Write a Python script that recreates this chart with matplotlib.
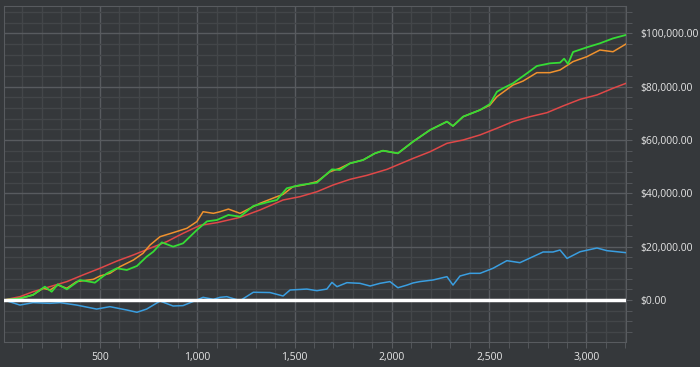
import matplotlib
matplotlib.use("Agg")
import matplotlib.pyplot as plt
from matplotlib.ticker import MultipleLocator, FuncFormatter

# ---- data ----
blue_x = [7, 89, 156, 243, 295, 380, 483, 551, 638, 690, 740, 809, 876, 927, 998, 1030, 1083, 1117, 1152,
          1220, 1288, 1374, 1441, 1477, 1563, 1615, 1666, 1692, 1718, 1769, 1836, 1888, 1939, 1990, 2031,
          2078, 2109, 2144, 2211, 2283, 2314, 2350, 2401, 2453, 2520, 2591, 2658, 2725, 2777, 2828, 2864,
          2900, 2967, 3054, 3105, 3157, 3203]
blue_y = [0, -1900, -1000, -1250, -1000, -1900, -3400, -2500, -3750, -4600, -3400, -400, -2250, -2100, 0,
          1000, 250, 1000, 1250, -250, 2900, 2800, 1500, 3750, 4100, 3500, 4100, 6600, 5000, 6500, 6250,
          5250, 6250, 6900, 4600, 5600, 6400, 6900, 7500, 8750, 5600, 9000, 10000, 10000, 11900, 14750,
          14000, 16250, 18000, 18000, 18750, 15600, 18100, 19500, 18500, 18100, 17750]

red_x = [7, 89, 156, 243, 330, 413, 500, 587, 672, 757, 844, 927, 1014, 1101, 1220, 1322, 1441, 1528, 1615,
         1697, 1785, 1872, 1975, 2109, 2196, 2283, 2366, 2453, 2540, 2622, 2710, 2797, 2879, 2967, 3054,
         3136, 3203]
red_y = [0, 1250, 3100, 5000, 6900, 9400, 11900, 14600, 16900, 19400, 21900, 25000, 28000, 29000, 31000,
         33750, 37500, 38750, 40600, 43100, 45250, 46750, 49000, 53100, 55600, 58750, 60000, 61900, 64400,
         66900, 68750, 70250, 72750, 75250, 76900, 79400, 81250]

orange_x = [7, 89, 156, 208, 243, 284, 330, 380, 466, 500, 551, 603, 672, 721, 757, 809, 876, 947, 998,
            1030, 1083, 1117, 1160, 1220, 1271, 1322, 1409, 1441, 1492, 1545, 1615, 1682, 1733, 1785, 1852,
            1913, 1954, 2031, 2109, 2196, 2283, 2314, 2366, 2453, 2504, 2540, 2622, 2674, 2745, 2812, 2864,
            2931, 3002, 3069, 3136, 3203]
orange_y = [0, 600, 1900, 4400, 3750, 5600, 4400, 6900, 7750, 9000, 10000, 12500, 15000, 17500, 20600,
            23750, 25250, 26900, 29400, 33100, 32500, 33100, 34100, 32500, 34400, 36250, 38750, 39600,
            42500, 43100, 44400, 48100, 49400, 51250, 52500, 55000, 56000, 55000, 59400, 63750, 66900,
            65250, 68750, 71250, 73100, 76250, 80600, 82100, 85250, 85250, 86250, 89400, 91250, 93750,
            93100, 96000]

green_x = [7, 89, 156, 217, 252, 284, 330, 397, 474, 536, 587, 638, 690, 740, 774, 818, 876, 927, 998,
           1050, 1101, 1160, 1220, 1288, 1357, 1409, 1460, 1528, 1615, 1692, 1733, 1785, 1852, 1913, 1954,
           2031, 2109, 2196, 2283, 2314, 2366, 2453, 2504, 2540, 2571, 2622, 2694, 2745, 2812, 2864, 2885,
           2905, 2931, 3002, 3069, 3136, 3203]
green_y = [0, 600, 1900, 5000, 3100, 5900, 4000, 7500, 6500, 10000, 11900, 11250, 12750, 16250, 18100,
           21600, 20000, 21250, 26250, 29500, 30000, 31900, 31250, 35250, 36600, 37500, 41900, 43100, 44000,
           49000, 48750, 51250, 52500, 55000, 56000, 55000, 59400, 63750, 66900, 65250, 68750, 71250, 73500,
           78100, 79400, 81250, 85000, 87750, 88750, 89000, 90500, 88500, 93000, 94750, 96250, 98100, 99400]

# ---- style ----
BG = "#35383b"
MAJOR = "#585b5f"
MINOR = "#434649"
TXT = "#e6e6e6"

plt.rcParams['font.family'] = ['Open Sans', 'DejaVu Sans']

fig = plt.figure(figsize=(7, 3.67), dpi=100, facecolor=BG)
ax = fig.add_axes([4/700, 25/367, 622/700, 336/367], facecolor=BG)

ax.plot(red_x, red_y, color="#e04848", lw=1.1, zorder=3)
ax.plot(orange_x, orange_y, color="#f0922e", lw=1.1, zorder=4)
ax.plot(green_x, green_y, color="#35dc35", lw=1.3, zorder=5)
ax.plot(blue_x, blue_y, color="#3a9ee0", lw=1.1, zorder=3)
ax.axhline(0, color="white", lw=2.5, zorder=6)

ax.set_xlim(7, 3203)
ax.set_ylim(-15750, 110250)

ax.xaxis.set_major_locator(MultipleLocator(500))
ax.xaxis.set_minor_locator(MultipleLocator(100))
ax.yaxis.set_major_locator(MultipleLocator(20000))
ax.yaxis.set_minor_locator(MultipleLocator(4000))
ax.xaxis.set_major_formatter(FuncFormatter(lambda v, p: f"{int(v):,}"))
ax.yaxis.set_major_formatter(FuncFormatter(lambda v, p: f"${v:,.2f}"))

ax.grid(which="major", color=MAJOR, lw=1.0, zorder=1)
ax.grid(which="minor", color=MINOR, lw=1.0, zorder=0)
ax.set_axisbelow(True)

ax.yaxis.tick_right()
ax.tick_params(axis="both", which="both", length=4, color=MAJOR, labelcolor=TXT, labelsize=7.5)
ax.tick_params(axis="y", pad=6)
ax.tick_params(axis="x", pad=3)
for s in ax.spines.values():
    s.set_color(MAJOR)

fig.savefig("out.png", dpi=100, facecolor=BG)
